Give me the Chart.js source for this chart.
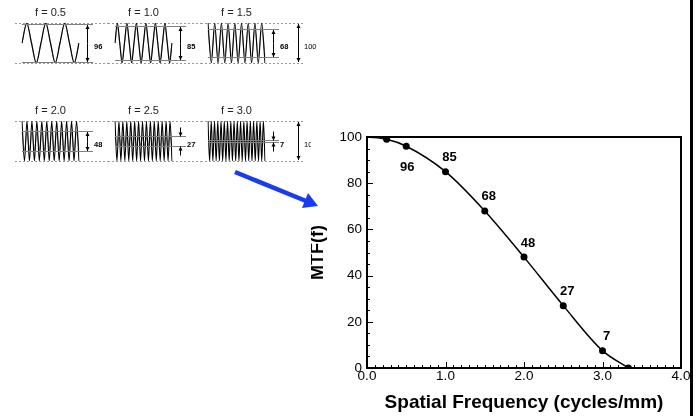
<!DOCTYPE html>
<html>
<head>
<meta charset="utf-8">
<script src="https://cdn.jsdelivr.net/npm/chart.js@4.4.0/dist/chart.umd.min.js"></script>
<style>
  html, body { margin: 0; padding: 0; background: #fff; }
  body { width: 700px; height: 416px; position: relative; overflow: hidden; }
  .thumb { position: absolute; z-index: 1; }
  #mainBox { position: absolute; left: 311px; top: 118px; width: 389px; height: 298px; background: #fff; z-index: 2; }
  #arrow { position: absolute; left: 0; top: 0; z-index: 3; }
  #edge { position: absolute; left: 690px; top: 0; width: 2.5px; height: 416px; background: #000; z-index: 3; }
</style>
</head>
<body>
<div id="mainBox"><canvas id="main" width="389" height="298"></canvas></div>
<svg id="arrow" width="700" height="416">
  <line x1="235" y1="172" x2="306" y2="201" stroke="#1a3cf0" stroke-width="4.5"/>
  <polygon points="318,206 302,208 308,193" fill="#1a3cf0"/>
</svg>
<div id="edge"></div>
<script>
// MTF curve (right panel)
const freqs = [0, 0.25, 0.5, 1.0, 1.5, 2.0, 2.5, 3.0, 3.33];
const mtf = [100, 99, 96, 85, 68, 48, 27, 7.5, 0];
const pointText = ['', '', '96', '85', '68', '48', '27', '7', ''];
const xTicks = [0, 1, 2, 3, 4];
const yTicks = [0, 20, 40, 60, 80, 100];

// test patterns (left panels): sampled peaks / crossings / troughs
const thumbTitles = ['f = 0.5', 'f = 1.0', 'f = 1.5', 'f = 2.0', 'f = 2.5', 'f = 3.0'];
const thumbMtf = [96, 85, 68, 48, 27, 7];
const wave05 = [0, 1, 0, -1, 0, 1, 0, -1, 0, 1, 0, -1, 0];
const wave10 = [0, 1, 0, -1, 0, 1, 0, -1, 0, 1, 0, -1, 0, 1, 0, -1, 0, 1, 0, -1, 0, 1, 0, -1, 0];
const wave15 = [1, -1, 1, -1, 1, -1, 1, -1, 1, -1, 1, -1, 1, -1, 1, -1, 1, -1];
const wave20 = [1, -1, 1, -1, 1, -1, 1, -1, 1, -1, 1, -1, 1, -1, 1, -1, 1, -1, 1, -1, 1, -1, 1, -1];
const wave25 = [1, -1, 1, -1, 1, -1, 1, -1, 1, -1, 1, -1, 1, -1, 1, -1, 1, -1, 1, -1,
                1, -1, 1, -1, 1, -1, 1, -1, 1, -1];
const wave30 = [1, -1, 1, -1, 1, -1, 1, -1, 1, -1, 1, -1, 1, -1, 1, -1, 1, -1, 1, -1,
                1, -1, 1, -1, 1, -1, 1, -1, 1, -1, 1, -1, 1, -1, 1, -1];
const thumbWaves = [wave05, wave10, wave15, wave20, wave25, wave30];
const fullLabel = '100';

Chart.defaults.font.family = '"Liberation Sans", Arial, sans-serif';
Chart.defaults.color = '#000';

// small layout helpers for the thumbnails
const COLS = [15, 108, 201];
const ROWS = [0, 98];

function arrowHead(ctx, x, from, to) {
  const dir = to > from ? 1 : -1;
  ctx.beginPath();
  ctx.moveTo(x, from);
  ctx.lineTo(x, to);
  ctx.stroke();
  ctx.beginPath();
  ctx.moveTo(x, to);
  ctx.lineTo(x - 2, to - dir * 4);
  ctx.lineTo(x + 2, to - dir * 4);
  ctx.closePath();
  ctx.fill();
}

const thumbDeco = {
  id: 'thumbDeco',
  beforeDatasetsDraw(chart, args, o) {
    const { ctx, chartArea: a } = chart;
    ctx.save();
    ctx.strokeStyle = '#999';
    ctx.lineWidth = 1;
    ctx.setLineDash([2, 2]);
    [a.top, a.bottom].forEach(yy => {
      const py = Math.round(yy) + 0.5;
      ctx.beginPath();
      ctx.moveTo(0, py);
      ctx.lineTo(o.dashEnd, py);
      ctx.stroke();
    });
    ctx.restore();
  },
  afterDatasetsDraw(chart, args, o) {
    const { ctx, chartArea: a } = chart;
    const y = chart.scales.y;
    const yt = Math.round(y.getPixelForValue(o.amp / 100)) + 0.5;
    const yb = Math.round(y.getPixelForValue(-o.amp / 100)) + 0.5;
    ctx.save();
    // amplitude lines
    ctx.strokeStyle = '#808080';
    ctx.lineWidth = 1;
    [yt, yb].forEach(py => {
      ctx.beginPath();
      ctx.moveTo(a.left, py);
      ctx.lineTo(a.left + 71, py);
      ctx.stroke();
    });
    // arrows
    ctx.strokeStyle = '#000';
    ctx.fillStyle = '#000';
    const ax = a.left + 65.5;
    const mid = (yt + yb) / 2;
    if (o.amp >= 40) {
      arrowHead(ctx, ax, mid, yt + 0.5);
      arrowHead(ctx, ax, mid, yb - 0.5);
    } else {
      arrowHead(ctx, ax, yt - 9, yt);
      arrowHead(ctx, ax, yb + 9, yb);
    }
    // labels
    ctx.font = 'bold 7.5px "Liberation Sans", Arial, sans-serif';
    ctx.textBaseline = 'middle';
    ctx.textAlign = 'left';
    ctx.fillText(String(o.amp), a.left + 72, mid + 3.5);
    // title
    ctx.font = '11px "Liberation Sans", Arial, sans-serif';
    ctx.fillStyle = '#222';
    ctx.textAlign = 'center';
    ctx.fillText(o.title, (a.left + a.right) / 2, a.top - 10);
    // full-scale marker
    if (o.full) {
      ctx.fillStyle = '#000';
      const fx = a.left + 90.5;
      const fm = (a.top + a.bottom) / 2;
      arrowHead(ctx, fx, fm, a.top + 1);
      arrowHead(ctx, fx, fm, a.bottom - 1);
      ctx.font = '7.5px "Liberation Sans", Arial, sans-serif';
      ctx.textAlign = 'left';
      ctx.fillText(fullLabel, a.left + 96, fm + 3.5);
    }
    ctx.restore();
  }
};

thumbTitles.forEach((title, i) => {
  const col = i % 3;
  const row = Math.floor(i / 3);
  const last = col === 2;
  const cv = document.createElement('canvas');
  cv.width = last ? 120 : 93;
  cv.height = 72;
  cv.className = 'thumb';
  cv.style.left = COLS[col] + 'px';
  cv.style.top = ROWS[row] + 'px';
  document.body.appendChild(cv);
  const wave = thumbWaves[i];
  const amp = thumbMtf[i];
  new Chart(cv, {
    type: 'line',
    data: {
      labels: wave.map((_, k) => k),
      datasets: [
        {
          data: wave,
          borderColor: '#000',
          borderWidth: 1.1,
          pointRadius: 0,
          cubicInterpolationMode: 'monotone',
          order: 0
        },
        {
          data: wave,
          yAxisID: 'yb',
          borderColor: '#9a9a9a',
          borderWidth: 1.2,
          pointRadius: 0,
          cubicInterpolationMode: 'monotone',
          order: 1
        }
      ]
    },
    options: {
      responsive: false,
      animation: false,
      devicePixelRatio: 1,
      events: [],
      layout: { padding: { left: 7, right: cv.width - 64, top: 23, bottom: cv.height - 63 } },
      plugins: {
        legend: { display: false },
        tooltip: { enabled: false },
        thumbDeco: { title: title, amp: amp, full: last, dashEnd: last ? 102 : cv.width }
      },
      scales: {
        x: { display: false },
        y: { display: false, min: -1, max: 1 },
        yb: { display: false, min: -100 / amp, max: 100 / amp }
      }
    },
    plugins: [thumbDeco]
  });
});

// frame and inward tick marks for the MTF plot
const frameTicks = {
  id: 'frameTicks',
  afterDraw(chart) {
    const { ctx, chartArea: a, scales: { x, y } } = chart;
    ctx.save();
    ctx.strokeStyle = '#000';
    ctx.lineWidth = 1;
    for (let i = 1; i < 40; i++) {
      const px = Math.round(x.getPixelForValue(i / 10)) + 0.5;
      const len = i % 10 === 0 ? 6 : 3;
      ctx.beginPath();
      ctx.moveTo(px, a.bottom);
      ctx.lineTo(px, a.bottom - len);
      ctx.stroke();
    }
    for (let v = 5; v < 100; v += 5) {
      const py = Math.round(y.getPixelForValue(v)) + 0.5;
      const len = v % 20 === 0 ? 6 : 3;
      ctx.beginPath();
      ctx.moveTo(a.left, py);
      ctx.lineTo(a.left + len, py);
      ctx.stroke();
    }
    ctx.lineWidth = 2;
    ctx.strokeRect(a.left, a.top, a.right - a.left, a.bottom - a.top);
    ctx.restore();
  }
};

const pointLabels = {
  id: 'pointLabels',
  afterDatasetsDraw(chart) {
    const { ctx } = chart;
    const meta = chart.getDatasetMeta(0);
    ctx.save();
    ctx.font = 'bold 13px "Liberation Sans", Arial, sans-serif';
    ctx.fillStyle = '#000';
    ctx.textAlign = 'center';
    ctx.textBaseline = 'middle';
    meta.data.forEach((pt, i) => {
      const t = pointText[i];
      if (!t) return;
      if (i === 2) {
        ctx.fillText(t, pt.x + 1, pt.y + 21);
      } else {
        ctx.fillText(t, pt.x + 4, pt.y - 14);
      }
    });
    ctx.restore();
  }
};

new Chart(document.getElementById('main'), {
  type: 'line',
  data: {
    datasets: [{
      data: freqs.map((f, i) => ({ x: f, y: mtf[i] })),
      borderColor: '#000',
      borderWidth: 1.5,
      pointRadius: ctx => (ctx.dataIndex === 0 ? 0 : 3.5),
      pointBackgroundColor: '#000',
      pointBorderColor: '#000',
      pointBorderWidth: 0,
      cubicInterpolationMode: 'monotone'
    }]
  },
  options: {
    responsive: false,
    animation: false,
    devicePixelRatio: 1,
    events: [],
    layout: { padding: { left: 0, right: 19, top: 19, bottom: 0 } },
    plugins: { legend: { display: false }, tooltip: { enabled: false } },
    scales: {
      x: {
        type: 'linear',
        min: 0,
        max: 4,
        afterFit: s => { s.height = 48; },
        afterBuildTicks: s => { s.ticks = xTicks.map(v => ({ value: v })); },
        ticks: {
          callback: v => v.toFixed(1),
          font: { size: 13.5 },
          color: '#000',
          padding: 0,
          maxRotation: 0,
          autoSkip: false
        },
        grid: { display: false, drawTicks: false },
        border: { display: false },
        title: {
          display: true,
          text: 'Spatial Frequency (cycles/mm)',
          font: { size: 19, weight: 'bold' },
          color: '#000',
          padding: { top: 0, bottom: 2 }
        }
      },
      y: {
        min: 0,
        max: 100,
        afterFit: s => { s.width = 56; },
        afterBuildTicks: s => { s.ticks = yTicks.map(v => ({ value: v })); },
        ticks: { font: { size: 13.5 }, color: '#000', padding: 5 },
        grid: { display: false, drawTicks: false },
        border: { display: false },
        title: {
          display: true,
          text: 'MTF(f)',
          font: { size: 18, weight: 'bold', lineHeight: 0.8 },
          color: '#000',
          padding: 0
        }
      }
    }
  },
  plugins: [frameTicks, pointLabels]
});
</script>
</body>
</html>
